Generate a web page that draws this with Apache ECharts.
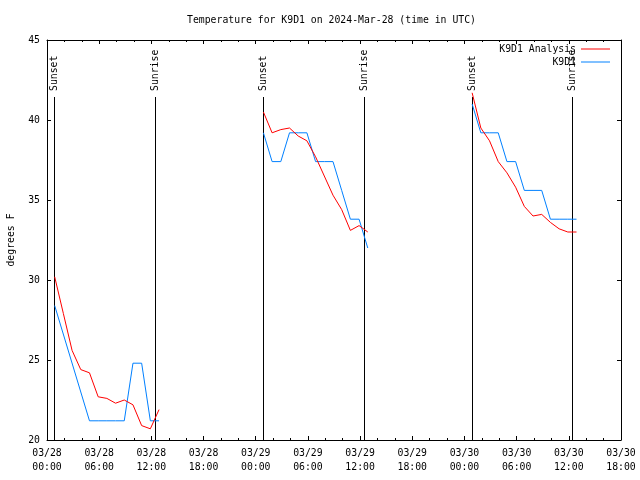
<!DOCTYPE html>
<html>
<head>
<meta charset="utf-8">
<script src="https://cdn.jsdelivr.net/npm/echarts@6/dist/echarts.min.js"></script>
<style>html,body{margin:0;padding:0;background:#fff}#c{width:640px;height:480px}</style>
</head>
<body>
<div id="c"></div>
<script>
// ---- data ----
const titleText = 'Temperature for K9D1 on 2024-Mar-28 (time in UTC)';
const axisStart = '2024-03-28T00:00Z';
const xTickLabels = ['03/28\n00:00','03/28\n06:00','03/28\n12:00','03/28\n18:00',
  '03/29\n00:00','03/29\n06:00','03/29\n12:00','03/29\n18:00',
  '03/30\n00:00','03/30\n06:00','03/30\n12:00','03/30\n18:00'];
const nightStarts = ['2024-03-28T00:53Z','2024-03-29T00:53Z','2024-03-30T00:53Z'];
// hourly values from the night start (hour 0 .. 12), null = missing
const analysisN1 = [30.2, 27.9, 25.6, 24.4, 24.2, 22.7, 22.6, 22.3, 22.5, 22.2, 20.9, 20.7, 21.9];
const analysisN2 = [40.5, 39.2, 39.4, 39.5, 39.0, 38.7, 37.7, 36.5, 35.3, 34.4, 33.1, 33.4, 33.0];
const analysisN3 = [41.7, 39.5, 38.7, 37.4, 36.7, 35.8, 34.6, 34.0, 34.1, 33.6, 33.2, 33.0, 33.0];
const obsN1 = [28.4, null, null, null, 21.2, 21.2, 21.2, 21.2, 21.2, 24.8, 24.8, 21.2, 21.2];
const obsN2 = [39.2, 37.4, 37.4, 39.2, 39.2, 39.2, 37.4, 37.4, 37.4, 35.6, 33.8, 33.8, 32.0];
const obsN3 = [41.0, 39.2, 39.2, 39.2, 37.4, 37.4, 35.6, 35.6, 35.6, 33.8, 33.8, 33.8, 33.8];
const sunEventTimes = ['2024-03-28T00:51Z','2024-03-28T12:26Z','2024-03-29T00:52Z',
  '2024-03-29T12:27Z','2024-03-30T00:53Z','2024-03-30T12:25Z'];
const sunEventLabels = ['Sunset','Sunrise','Sunset','Sunrise','Sunset','Sunrise'];

// ---- build ----
const T0 = Date.parse(axisStart);
const toH = s => (Date.parse(s) - T0) / 3600000;
function buildSeries(nights) {
  const out = [];
  nights.forEach((vals, n) => {
    const h0 = toH(nightStarts[n]);
    vals.forEach((v, i) => { if (v !== null) out.push([h0 + i, v]); });
    if (n < nights.length - 1) out.push([h0 + vals.length, null]);
  });
  return out;
}
const analysisData = buildSeries([analysisN1, analysisN2, analysisN3]);
const obsData = buildSeries([obsN1, obsN2, obsN3]);
const sunData = sunEventTimes.map(s => [toH(s), 20]);

const FONT = '"DejaVu Sans Mono", monospace';
const FS = 9.8;
const axisCommon = {
  type: 'value',
  axisLine: { show: true, onZero: false, lineStyle: { color: '#000', width: 1 } },
  splitLine: { show: false },
};

const chart = echarts.init(document.getElementById('c'), null, { renderer: 'canvas' });
chart.setOption({
  animation: false,
  backgroundColor: '#fff',
  title: {
    text: titleText, left: 187, top: 14, padding: 0,
    textStyle: { fontFamily: FONT, fontSize: FS, fontWeight: 'normal', color: '#000', lineHeight: 12 }
  },
  legend: {
    data: [{ name: 'K9D1 Analysis', icon: 'rect' }, { name: 'K9D1', icon: 'rect' }],
    orient: 'vertical', align: 'right', right: 30, top: 44, padding: 0,
    itemWidth: 29, itemHeight: 1, itemGap: 3,
    textStyle: { fontFamily: FONT, fontSize: FS, color: '#000', lineHeight: 10 }
  },
  grid: { left: 47, right: 19, top: 40, bottom: 40, containLabel: false, outerBoundsMode: 'none' },
  xAxis: [
    Object.assign({}, axisCommon, {
      position: 'bottom', min: 0, max: 66, interval: 6,
      axisTick: { show: true, inside: true, length: 4, lineStyle: { color: '#000' } },
      minorTick: { show: true, splitNumber: 3, length: 2, lineStyle: { color: '#000' } },
      axisLabel: {
        margin: 6, fontFamily: FONT, fontSize: FS, color: '#000', lineHeight: 14,
        formatter: v => xTickLabels[Math.round(v / 6)]
      }
    }),
    Object.assign({}, axisCommon, {
      position: 'top', min: 0, max: 66, interval: 6,
      axisTick: { show: true, inside: true, length: 4, lineStyle: { color: '#000' } },
      minorTick: { show: true, splitNumber: 3, length: 2, lineStyle: { color: '#000' } },
      axisLabel: { show: false }
    })
  ],
  yAxis: [
    Object.assign({}, axisCommon, {
      position: 'left', min: 20, max: 45, interval: 5,
      name: 'degrees F', nameLocation: 'middle', nameGap: 31, nameRotate: 90,
      nameTextStyle: { fontFamily: FONT, fontSize: FS, color: '#000' },
      axisTick: { show: true, inside: true, length: 4, lineStyle: { color: '#000' } },
      axisLabel: { margin: 7, fontFamily: FONT, fontSize: FS, color: '#000' }
    }),
    Object.assign({}, axisCommon, {
      position: 'right', min: 20, max: 45, interval: 5,
      axisTick: { show: true, inside: true, length: 4, lineStyle: { color: '#000' } },
      axisLabel: { show: false }
    })
  ],
  series: [
    {
      type: 'custom', name: 'sun', xAxisIndex: 0, yAxisIndex: 0, silent: true,
      data: sunData, encode: { x: 0, y: 1 }, z: 1,
      renderItem: function (params, api) {
        const p = api.coord([api.value(0), api.value(1)]);
        const x = Math.round(p[0]) + 0.5;
        const top = params.coordSys.y + 57;
        return {
          type: 'group',
          children: [
            { type: 'line', shape: { x1: x, y1: top, x2: x, y2: p[1] },
              style: { stroke: '#000', lineWidth: 1 } },
            { type: 'text', x: x, y: top - 6, rotation: Math.PI / 2,
              style: { text: sunEventLabels[params.dataIndex], align: 'left', verticalAlign: 'middle',
                       font: FS + 'px ' + FONT, fill: '#000' } }
          ]
        };
      }
    },
    {
      type: 'line', name: 'K9D1 Analysis', data: analysisData, symbol: 'none', connectNulls: false,
      lineStyle: { color: '#ff0000', width: 1 }, itemStyle: { color: '#ff0000' }, z: 3
    },
    {
      type: 'line', name: 'K9D1', data: obsData, symbol: 'none', connectNulls: false,
      lineStyle: { color: '#0080ff', width: 1 }, itemStyle: { color: '#0080ff' }, z: 2
    }
  ]
});
</script>
</body>
</html>
